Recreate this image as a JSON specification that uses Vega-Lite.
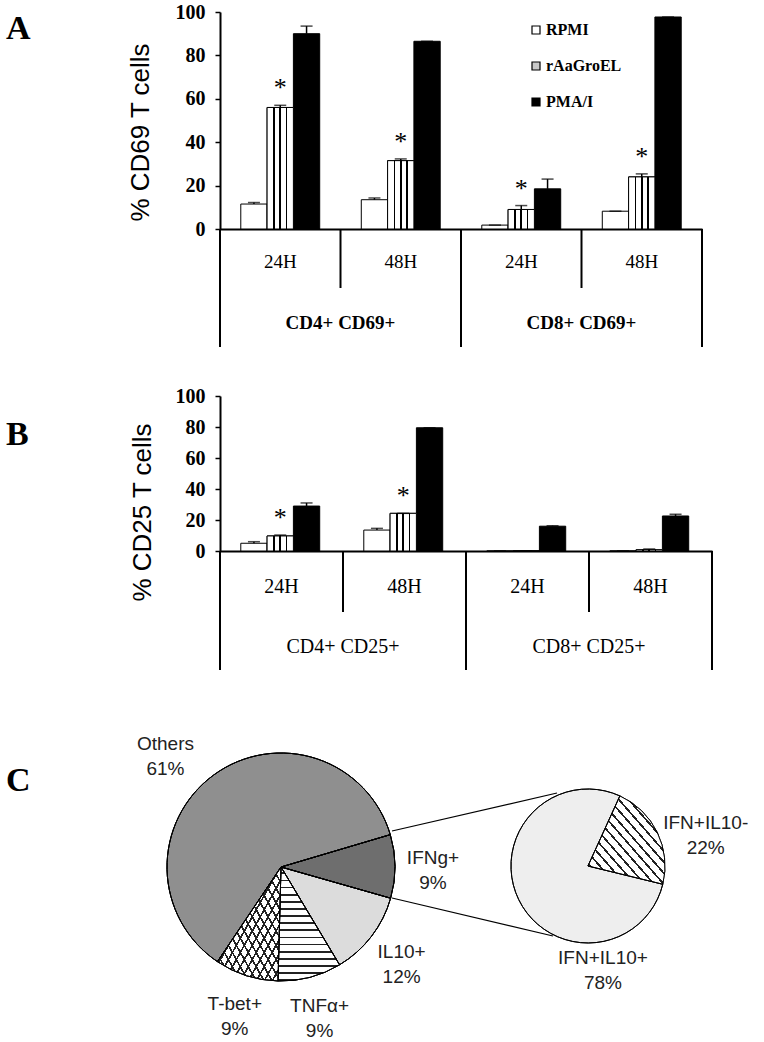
{
  "$schema": "https://vega.github.io/schema/vega-lite/v6.json",
  "padding": {"left": 6, "top": 2, "right": 0, "bottom": 0},
  "bounds": "flush",
  "spacing": 0,
  "config": {"view": {"stroke": null}},
  "resolve": {"scale": {"fill": "independent"}, "legend": {"fill": "independent"}},
  "datasets": {
    "cd69": [
      {"grp": "CD4 24H", "trt": "RPMI", "value": 11.5, "hi": 12.2, "sig": ""},
      {"grp": "CD4 24H", "trt": "rAaGroEL", "value": 56, "hi": 57, "sig": "*"},
      {"grp": "CD4 24H", "trt": "PMA/I", "value": 90, "hi": 93.5, "sig": ""},
      {"grp": "CD4 48H", "trt": "RPMI", "value": 13.5, "hi": 14.3, "sig": ""},
      {"grp": "CD4 48H", "trt": "rAaGroEL", "value": 31.5, "hi": 32.3, "sig": "*"},
      {"grp": "CD4 48H", "trt": "PMA/I", "value": 86.5, "hi": 86.5, "sig": ""},
      {"grp": "CD8 24H", "trt": "RPMI", "value": 1.8, "hi": 1.8, "sig": ""},
      {"grp": "CD8 24H", "trt": "rAaGroEL", "value": 9, "hi": 10.8, "sig": "*"},
      {"grp": "CD8 24H", "trt": "PMA/I", "value": 18.5, "hi": 23, "sig": ""},
      {"grp": "CD8 48H", "trt": "RPMI", "value": 8.2, "hi": 8.2, "sig": ""},
      {"grp": "CD8 48H", "trt": "rAaGroEL", "value": 24, "hi": 25.4, "sig": "*"},
      {"grp": "CD8 48H", "trt": "PMA/I", "value": 97.7, "hi": 97.7, "sig": ""}
    ],
    "cd25": [
      {"grp": "CD4 24H", "trt": "RPMI", "value": 5, "hi": 6, "sig": ""},
      {"grp": "CD4 24H", "trt": "rAaGroEL", "value": 9.7, "hi": 10.3, "sig": "*"},
      {"grp": "CD4 24H", "trt": "PMA/I", "value": 29, "hi": 31, "sig": ""},
      {"grp": "CD4 48H", "trt": "RPMI", "value": 13.5, "hi": 14.6, "sig": ""},
      {"grp": "CD4 48H", "trt": "rAaGroEL", "value": 24.3, "hi": 24.3, "sig": "*"},
      {"grp": "CD4 48H", "trt": "PMA/I", "value": 79.5, "hi": 79.5, "sig": ""},
      {"grp": "CD8 24H", "trt": "RPMI", "value": 0, "hi": 0, "sig": ""},
      {"grp": "CD8 24H", "trt": "rAaGroEL", "value": 0, "hi": 0, "sig": ""},
      {"grp": "CD8 24H", "trt": "PMA/I", "value": 16, "hi": 16.3, "sig": ""},
      {"grp": "CD8 48H", "trt": "RPMI", "value": 0, "hi": 0, "sig": ""},
      {"grp": "CD8 48H", "trt": "rAaGroEL", "value": 0.8, "hi": 1.3, "sig": ""},
      {"grp": "CD8 48H", "trt": "PMA/I", "value": 22.6, "hi": 23.7, "sig": ""}
    ],
    "pie1": [
      {"name": "IFNg+", "pct": 9, "ord": 1, "label": "IFNg+\n9%"},
      {"name": "IL10+", "pct": 12, "ord": 2, "label": "IL10+\n12%"},
      {"name": "TNFα+", "pct": 9, "ord": 3, "label": "TNFα+\n9%"},
      {"name": "T-bet+", "pct": 9, "ord": 4, "label": "T-bet+\n9%"},
      {"name": "Others", "pct": 61, "ord": 5, "label": "Others\n61%"}
    ],
    "pie2": [
      {"name": "IFN+IL10-", "pct": 22, "ord": 1, "label": "IFN+IL10-\n22%"},
      {"name": "IFN+IL10+", "pct": 78, "ord": 2, "label": "IFN+IL10+\n78%"}
    ]
  },
  "vconcat": [
    {
      "width": 482,
      "height": 217,
      "title": {"text": "A", "anchor": "start", "frame": "group", "orient": "top", "offset": 0, "baseline": "alphabetic", "dx": -214, "dy": 71, "font": "Liberation Serif", "fontSize": 34, "fontWeight": "bold", "color": "black"},
      "encoding": {
        "x": {"field": "grp", "type": "nominal", "scale": {"domain": ["CD4 24H", "CD4 48H", "CD8 24H", "CD8 48H"], "paddingInner": 0, "paddingOuter": 0}, "axis": {"labels": false, "ticks": false, "title": null, "domainColor": "black", "domainWidth": 2}},
        "y": {"field": "value", "type": "quantitative", "scale": {"domain": [0, 100], "nice": false}, "axis": {"values": [0, 20, 40, 60, 80, 100], "title": "% CD69 T cells", "titleFont": "Liberation Sans", "titleFontSize": 26, "titleFontWeight": "normal", "titleColor": "black", "titlePadding": 22, "titleY": 120, "labelFont": "Liberation Serif", "labelFontSize": 20, "labelFontWeight": "bold", "labelColor": "black", "labelPadding": 10, "tickSize": 5, "tickWidth": 1.5, "tickColor": "black", "domainColor": "black", "domainWidth": 2, "grid": false}}
      },
      "layer": [
        {
          "data": {"name": "cd69"},
          "mark": {"type": "bar", "stroke": "black", "strokeWidth": 1},
          "encoding": {
            "xOffset": {"field": "trt", "type": "nominal", "scale": {"domain": ["RPMI", "rAaGroEL", "PMA/I"], "paddingInner": 0, "paddingOuter": 0.79}},
            "fill": {"field": "trt", "type": "nominal", "scale": {"domain": ["RPMI", "rAaGroEL", "PMA/I"], "range": ["white", "#c8c8c8", "black"]}, "legend": {"orient": "none", "legendX": 308, "legendY": 10, "title": null, "symbolType": "square", "symbolSize": 64, "symbolStrokeColor": "black", "symbolStrokeWidth": 1.2, "labelFont": "Liberation Serif", "labelFontWeight": "bold", "labelFontSize": 16, "labelColor": "black", "rowPadding": 20, "labelOffset": 2}}
          }
        },
        {
          "data": {"name": "cd69"},
          "transform": [{"filter": "datum.trt === 'rAaGroEL'"}],
          "mark": {"type": "bar", "stroke": "black", "strokeWidth": 1, "fill": {"gradient": "linear", "x1": 0, "y1": 0, "x2": 1, "y2": 0, "stops": [{"offset": 0, "color": "white"}, {"offset": 0.24, "color": "white"}, {"offset": 0.24, "color": "black"}, {"offset": 0.3, "color": "black"}, {"offset": 0.3, "color": "white"}, {"offset": 0.47, "color": "white"}, {"offset": 0.47, "color": "black"}, {"offset": 0.53, "color": "black"}, {"offset": 0.53, "color": "white"}, {"offset": 0.7, "color": "white"}, {"offset": 0.7, "color": "black"}, {"offset": 0.76, "color": "black"}, {"offset": 0.76, "color": "white"}, {"offset": 1, "color": "white"}]}},
          "encoding": {"xOffset": {"field": "trt", "type": "nominal"}}
        },
        {
          "data": {"name": "cd69"},
          "mark": {"type": "rule", "strokeWidth": 1.5, "color": "black"},
          "encoding": {"xOffset": {"field": "trt", "type": "nominal"}, "y2": {"field": "hi"}}
        },
        {
          "data": {"name": "cd69"},
          "mark": {"type": "tick", "orient": "horizontal", "size": 12, "thickness": 1.5, "color": "black"},
          "encoding": {"xOffset": {"field": "trt", "type": "nominal"}, "y": {"field": "hi", "type": "quantitative"}}
        },
        {
          "data": {"name": "cd69"},
          "transform": [{"filter": "datum.sig === '*'"}],
          "mark": {"type": "text", "font": "Liberation Serif", "fontSize": 26, "baseline": "alphabetic", "dy": -9, "color": "black"},
          "encoding": {"xOffset": {"field": "trt", "type": "nominal"}, "y": {"field": "hi", "type": "quantitative"}, "text": {"field": "sig"}}
        }
      ]
    },
    {
      "width": 482,
      "height": 167,
      "encoding": {
        "x": {"field": "grp", "type": "nominal", "scale": {"domain": ["CD4 24H", "CD4 48H", "CD8 24H", "CD8 48H"], "paddingInner": 0, "paddingOuter": 0}, "axis": null}
      },
      "layer": [
        {
          "data": {"values": [{"grp": "CD4 24H"}, {"grp": "CD8 24H"}]},
          "mark": {"type": "rule", "strokeWidth": 2, "color": "black"},
          "encoding": {
            "x": {"field": "grp", "type": "nominal", "bandPosition": 0, "axis": null},
            "y": {"datum": 1, "type": "quantitative", "scale": {"domain": [0, 1], "nice": false, "zero": false}, "axis": null},
            "y2": {"datum": 0.2934}
          }
        },
        {
          "data": {"values": [{"grp": "CD8 48H"}]},
          "mark": {"type": "rule", "strokeWidth": 2, "color": "black"},
          "encoding": {
            "x": {"field": "grp", "type": "nominal", "bandPosition": 1, "axis": null},
            "y": {"datum": 1, "type": "quantitative", "scale": {"domain": [0, 1], "nice": false, "zero": false}, "axis": null},
            "y2": {"datum": 0.2934}
          }
        },
        {
          "data": {"values": [{"grp": "CD4 48H"}, {"grp": "CD8 48H"}]},
          "mark": {"type": "rule", "strokeWidth": 2, "color": "black"},
          "encoding": {
            "x": {"field": "grp", "type": "nominal", "bandPosition": 0, "axis": null},
            "y": {"datum": 1, "type": "quantitative", "scale": {"domain": [0, 1], "nice": false, "zero": false}, "axis": null},
            "y2": {"datum": 0.6467}
          }
        },
        {
          "data": {"values": [{"grp": "CD4 24H", "t": "24H"}, {"grp": "CD4 48H", "t": "48H"}, {"grp": "CD8 24H", "t": "24H"}, {"grp": "CD8 48H", "t": "48H"}]},
          "mark": {"type": "text", "font": "Liberation Serif", "fontSize": 19, "baseline": "middle", "color": "black"},
          "encoding": {
            "y": {"datum": 0.8024, "type": "quantitative", "scale": {"domain": [0, 1], "nice": false, "zero": false}, "axis": null},
            "text": {"field": "t"}
          }
        },
        {
          "data": {"values": [{"grp": "CD4 24H", "t": "CD4+ CD69+"}, {"grp": "CD8 24H", "t": "CD8+ CD69+"}]},
          "mark": {"type": "text", "font": "Liberation Serif", "fontSize": 19, "fontWeight": "bold", "baseline": "middle", "color": "black"},
          "encoding": {
            "x": {"field": "grp", "type": "nominal", "bandPosition": 1, "axis": null},
            "y": {"datum": 0.4371, "type": "quantitative", "scale": {"domain": [0, 1], "nice": false, "zero": false}, "axis": null},
            "text": {"field": "t"}
          }
        }
      ]
    },
    {
      "width": 492,
      "height": 155,
      "title": {"text": "B", "anchor": "start", "frame": "group", "orient": "top", "offset": 0, "baseline": "alphabetic", "dx": -214, "dy": 93, "font": "Liberation Serif", "fontSize": 34, "fontWeight": "bold", "color": "black"},
      "encoding": {
        "x": {"field": "grp", "type": "nominal", "scale": {"domain": ["CD4 24H", "CD4 48H", "CD8 24H", "CD8 48H"], "paddingInner": 0, "paddingOuter": 0}, "axis": {"labels": false, "ticks": false, "title": null, "domainColor": "black", "domainWidth": 2}},
        "y": {"field": "value", "type": "quantitative", "scale": {"domain": [0, 100], "nice": false}, "axis": {"values": [0, 20, 40, 60, 80, 100], "title": "% CD25 T cells", "titleFont": "Liberation Sans", "titleFontSize": 26, "titleFontWeight": "normal", "titleColor": "black", "titlePadding": 20, "titleY": 116, "labelFont": "Liberation Serif", "labelFontSize": 20, "labelFontWeight": "bold", "labelColor": "black", "labelPadding": 10, "tickSize": 5, "tickWidth": 1.5, "tickColor": "black", "domainColor": "black", "domainWidth": 2, "grid": false}}
      },
      "layer": [
        {
          "data": {"name": "cd25"},
          "mark": {"type": "bar", "stroke": "black", "strokeWidth": 1},
          "encoding": {
            "xOffset": {"field": "trt", "type": "nominal", "scale": {"domain": ["RPMI", "rAaGroEL", "PMA/I"], "paddingInner": 0, "paddingOuter": 0.78}},
            "fill": {"field": "trt", "type": "nominal", "scale": {"domain": ["RPMI", "rAaGroEL", "PMA/I"], "range": ["white", "#c8c8c8", "black"]}, "legend": null}
          }
        },
        {
          "data": {"name": "cd25"},
          "transform": [{"filter": "datum.trt === 'rAaGroEL'"}],
          "mark": {"type": "bar", "stroke": "black", "strokeWidth": 1, "fill": {"gradient": "linear", "x1": 0, "y1": 0, "x2": 1, "y2": 0, "stops": [{"offset": 0, "color": "white"}, {"offset": 0.24, "color": "white"}, {"offset": 0.24, "color": "black"}, {"offset": 0.3, "color": "black"}, {"offset": 0.3, "color": "white"}, {"offset": 0.47, "color": "white"}, {"offset": 0.47, "color": "black"}, {"offset": 0.53, "color": "black"}, {"offset": 0.53, "color": "white"}, {"offset": 0.7, "color": "white"}, {"offset": 0.7, "color": "black"}, {"offset": 0.76, "color": "black"}, {"offset": 0.76, "color": "white"}, {"offset": 1, "color": "white"}]}},
          "encoding": {"xOffset": {"field": "trt", "type": "nominal"}}
        },
        {
          "data": {"name": "cd25"},
          "mark": {"type": "rule", "strokeWidth": 1.5, "color": "black"},
          "encoding": {"xOffset": {"field": "trt", "type": "nominal"}, "y2": {"field": "hi"}}
        },
        {
          "data": {"name": "cd25"},
          "mark": {"type": "tick", "orient": "horizontal", "size": 12, "thickness": 1.5, "color": "black"},
          "encoding": {"xOffset": {"field": "trt", "type": "nominal"}, "y": {"field": "hi", "type": "quantitative"}}
        },
        {
          "data": {"name": "cd25"},
          "transform": [{"filter": "datum.sig === '*'"}],
          "mark": {"type": "text", "font": "Liberation Serif", "fontSize": 26, "baseline": "alphabetic", "dy": -9, "color": "black"},
          "encoding": {"xOffset": {"field": "trt", "type": "nominal"}, "y": {"field": "hi", "type": "quantitative"}, "text": {"field": "sig"}}
        }
      ]
    },
    {
      "width": 492,
      "height": 168,
      "encoding": {
        "x": {"field": "grp", "type": "nominal", "scale": {"domain": ["CD4 24H", "CD4 48H", "CD8 24H", "CD8 48H"], "paddingInner": 0, "paddingOuter": 0}, "axis": null}
      },
      "layer": [
        {
          "data": {"values": [{"grp": "CD4 24H"}, {"grp": "CD8 24H"}]},
          "mark": {"type": "rule", "strokeWidth": 2, "color": "black"},
          "encoding": {
            "x": {"field": "grp", "type": "nominal", "bandPosition": 0, "axis": null},
            "y": {"datum": 1, "type": "quantitative", "scale": {"domain": [0, 1], "nice": false, "zero": false}, "axis": null},
            "y2": {"datum": 0.2917}
          }
        },
        {
          "data": {"values": [{"grp": "CD8 48H"}]},
          "mark": {"type": "rule", "strokeWidth": 2, "color": "black"},
          "encoding": {
            "x": {"field": "grp", "type": "nominal", "bandPosition": 1, "axis": null},
            "y": {"datum": 1, "type": "quantitative", "scale": {"domain": [0, 1], "nice": false, "zero": false}, "axis": null},
            "y2": {"datum": 0.2917}
          }
        },
        {
          "data": {"values": [{"grp": "CD4 48H"}, {"grp": "CD8 48H"}]},
          "mark": {"type": "rule", "strokeWidth": 2, "color": "black"},
          "encoding": {
            "x": {"field": "grp", "type": "nominal", "bandPosition": 0, "axis": null},
            "y": {"datum": 1, "type": "quantitative", "scale": {"domain": [0, 1], "nice": false, "zero": false}, "axis": null},
            "y2": {"datum": 0.6369}
          }
        },
        {
          "data": {"values": [{"grp": "CD4 24H", "t": "24H"}, {"grp": "CD4 48H", "t": "48H"}, {"grp": "CD8 24H", "t": "24H"}, {"grp": "CD8 48H", "t": "48H"}]},
          "mark": {"type": "text", "font": "Liberation Serif", "fontSize": 20, "baseline": "middle", "color": "black"},
          "encoding": {
            "y": {"datum": 0.7857, "type": "quantitative", "scale": {"domain": [0, 1], "nice": false, "zero": false}, "axis": null},
            "text": {"field": "t"}
          }
        },
        {
          "data": {"values": [{"grp": "CD4 24H", "t": "CD4+ CD25+"}, {"grp": "CD8 24H", "t": "CD8+ CD25+"}]},
          "mark": {"type": "text", "font": "Liberation Serif", "fontSize": 20, "baseline": "middle", "color": "black"},
          "encoding": {
            "x": {"field": "grp", "type": "nominal", "bandPosition": 1, "axis": null},
            "y": {"datum": 0.4286, "type": "quantitative", "scale": {"domain": [0, 1], "nice": false, "zero": false}, "axis": null},
            "text": {"field": "t"}
          }
        }
      ]
    },
    {
      "width": 540,
      "height": 324,
      "title": {"text": "C", "anchor": "start", "frame": "group", "orient": "top", "offset": 0, "baseline": "alphabetic", "dx": -214, "dy": 106, "font": "Liberation Serif", "fontSize": 34, "fontWeight": "bold", "color": "black"},
      "resolve": {"scale": {"theta": "independent", "fill": "independent"}},
      "layer": [
        {
          "data": {"values": [{}]},
          "mark": {"type": "rule", "color": "black", "strokeWidth": 1.2},
          "encoding": {
            "x": {"datum": 51.31, "type": "quantitative", "scale": {"domain": [0, 100], "range": [-220, 544], "nice": false, "zero": false}, "axis": null},
            "y": {"datum": 65.43, "type": "quantitative", "scale": {"domain": [0, 100], "range": [324, 0], "nice": false, "zero": false}, "axis": null},
            "x2": {"datum": 72.91},
            "y2": {"datum": 77.16}
          }
        },
        {
          "data": {"values": [{}]},
          "mark": {"type": "rule", "color": "black", "strokeWidth": 1.2},
          "encoding": {
            "x": {"datum": 51.31, "type": "quantitative", "scale": {"domain": [0, 100], "range": [-220, 544], "nice": false, "zero": false}, "axis": null},
            "y": {"datum": 44.75, "type": "quantitative", "scale": {"domain": [0, 100], "range": [324, 0], "nice": false, "zero": false}, "axis": null},
            "x2": {"datum": 72.38},
            "y2": {"datum": 33.02}
          }
        },
        {
          "data": {"name": "pie1"},
          "encoding": {
            "theta": {"field": "pct", "type": "quantitative", "stack": true, "scale": {"range": [1.2828, 7.566]}},
            "order": {"field": "ord", "type": "quantitative"},
            "detail": {"field": "name", "type": "nominal"},
            "x": {"datum": 36.78, "type": "quantitative", "scale": {"domain": [0, 100], "range": [-220, 544], "nice": false, "zero": false}, "axis": null},
            "y": {"datum": 54.32, "type": "quantitative", "scale": {"domain": [0, 100], "range": [324, 0], "nice": false, "zero": false}, "axis": null}
          },
          "layer": [
            {
              "mark": {"type": "arc", "radius": 114, "stroke": "black", "strokeWidth": 1},
              "encoding": {
                "fill": {"field": "name", "type": "nominal", "scale": {"domain": ["IFNg+", "IL10+", "TNFα+", "T-bet+", "Others"], "range": ["#6e6e6e", "#dcdcdc", "#c4c4c4", "#cacaca", "#8f8f8f"]}, "legend": null}
              }
            },
            {
              "mark": {"type": "arc", "radius": 114, "stroke": "black", "strokeWidth": 1},
              "encoding": {
                "fill": {"condition": [
                  {"test": "datum.name === 'T-bet+'", "value": {"gradient": "linear", "x1": 0, "y1": 0, "x2": 1, "y2": 1, "stops": [
                    {"offset": 0, "color": "white"}, {"offset": 0.0475, "color": "white"}, {"offset": 0.0475, "color": "#222"}, {"offset": 0.0625, "color": "#222"},
                    {"offset": 0.0625, "color": "white"}, {"offset": 0.11, "color": "white"}, {"offset": 0.11, "color": "#222"}, {"offset": 0.125, "color": "#222"},
                    {"offset": 0.125, "color": "white"}, {"offset": 0.1725, "color": "white"}, {"offset": 0.1725, "color": "#222"}, {"offset": 0.1875, "color": "#222"},
                    {"offset": 0.1875, "color": "white"}, {"offset": 0.235, "color": "white"}, {"offset": 0.235, "color": "#222"}, {"offset": 0.25, "color": "#222"},
                    {"offset": 0.25, "color": "white"}, {"offset": 0.2975, "color": "white"}, {"offset": 0.2975, "color": "#222"}, {"offset": 0.3125, "color": "#222"},
                    {"offset": 0.3125, "color": "white"}, {"offset": 0.36, "color": "white"}, {"offset": 0.36, "color": "#222"}, {"offset": 0.375, "color": "#222"},
                    {"offset": 0.375, "color": "white"}, {"offset": 0.4225, "color": "white"}, {"offset": 0.4225, "color": "#222"}, {"offset": 0.4375, "color": "#222"},
                    {"offset": 0.4375, "color": "white"}, {"offset": 0.485, "color": "white"}, {"offset": 0.485, "color": "#222"}, {"offset": 0.5, "color": "#222"},
                    {"offset": 0.5, "color": "white"}, {"offset": 0.5475, "color": "white"}, {"offset": 0.5475, "color": "#222"}, {"offset": 0.5625, "color": "#222"},
                    {"offset": 0.5625, "color": "white"}, {"offset": 0.61, "color": "white"}, {"offset": 0.61, "color": "#222"}, {"offset": 0.625, "color": "#222"},
                    {"offset": 0.625, "color": "white"}, {"offset": 0.6725, "color": "white"}, {"offset": 0.6725, "color": "#222"}, {"offset": 0.6875, "color": "#222"},
                    {"offset": 0.6875, "color": "white"}, {"offset": 0.735, "color": "white"}, {"offset": 0.735, "color": "#222"}, {"offset": 0.75, "color": "#222"},
                    {"offset": 0.75, "color": "white"}, {"offset": 0.7975, "color": "white"}, {"offset": 0.7975, "color": "#222"}, {"offset": 0.8125, "color": "#222"},
                    {"offset": 0.8125, "color": "white"}, {"offset": 0.86, "color": "white"}, {"offset": 0.86, "color": "#222"}, {"offset": 0.875, "color": "#222"},
                    {"offset": 0.875, "color": "white"}, {"offset": 0.9225, "color": "white"}, {"offset": 0.9225, "color": "#222"}, {"offset": 0.9375, "color": "#222"},
                    {"offset": 0.9375, "color": "white"}, {"offset": 0.985, "color": "white"}, {"offset": 0.985, "color": "#222"}, {"offset": 1, "color": "#222"}
                  ]}},
                  {"test": "datum.name === 'TNFα+'", "value": {"gradient": "linear", "x1": 0, "y1": 0, "x2": 0, "y2": 1, "stops": [
                    {"offset": 0, "color": "white"}, {"offset": 0.0475, "color": "white"}, {"offset": 0.0475, "color": "#222"}, {"offset": 0.0625, "color": "#222"},
                    {"offset": 0.0625, "color": "white"}, {"offset": 0.11, "color": "white"}, {"offset": 0.11, "color": "#222"}, {"offset": 0.125, "color": "#222"},
                    {"offset": 0.125, "color": "white"}, {"offset": 0.1725, "color": "white"}, {"offset": 0.1725, "color": "#222"}, {"offset": 0.1875, "color": "#222"},
                    {"offset": 0.1875, "color": "white"}, {"offset": 0.235, "color": "white"}, {"offset": 0.235, "color": "#222"}, {"offset": 0.25, "color": "#222"},
                    {"offset": 0.25, "color": "white"}, {"offset": 0.2975, "color": "white"}, {"offset": 0.2975, "color": "#222"}, {"offset": 0.3125, "color": "#222"},
                    {"offset": 0.3125, "color": "white"}, {"offset": 0.36, "color": "white"}, {"offset": 0.36, "color": "#222"}, {"offset": 0.375, "color": "#222"},
                    {"offset": 0.375, "color": "white"}, {"offset": 0.4225, "color": "white"}, {"offset": 0.4225, "color": "#222"}, {"offset": 0.4375, "color": "#222"},
                    {"offset": 0.4375, "color": "white"}, {"offset": 0.485, "color": "white"}, {"offset": 0.485, "color": "#222"}, {"offset": 0.5, "color": "#222"},
                    {"offset": 0.5, "color": "white"}, {"offset": 0.5475, "color": "white"}, {"offset": 0.5475, "color": "#222"}, {"offset": 0.5625, "color": "#222"},
                    {"offset": 0.5625, "color": "white"}, {"offset": 0.61, "color": "white"}, {"offset": 0.61, "color": "#222"}, {"offset": 0.625, "color": "#222"},
                    {"offset": 0.625, "color": "white"}, {"offset": 0.6725, "color": "white"}, {"offset": 0.6725, "color": "#222"}, {"offset": 0.6875, "color": "#222"},
                    {"offset": 0.6875, "color": "white"}, {"offset": 0.735, "color": "white"}, {"offset": 0.735, "color": "#222"}, {"offset": 0.75, "color": "#222"},
                    {"offset": 0.75, "color": "white"}, {"offset": 0.7975, "color": "white"}, {"offset": 0.7975, "color": "#222"}, {"offset": 0.8125, "color": "#222"},
                    {"offset": 0.8125, "color": "white"}, {"offset": 0.86, "color": "white"}, {"offset": 0.86, "color": "#222"}, {"offset": 0.875, "color": "#222"},
                    {"offset": 0.875, "color": "white"}, {"offset": 0.9225, "color": "white"}, {"offset": 0.9225, "color": "#222"}, {"offset": 0.9375, "color": "#222"},
                    {"offset": 0.9375, "color": "white"}, {"offset": 0.985, "color": "white"}, {"offset": 0.985, "color": "#222"}, {"offset": 1, "color": "#222"}
                  ]}}
                ], "value": "transparent"}
              }
            },
            {
              "mark": {"type": "arc", "radius": 114, "stroke": "black", "strokeWidth": 1},
              "encoding": {
                "fill": {"condition": {"test": "datum.name === 'T-bet+'", "value": {"gradient": "linear", "x1": 0, "y1": 1, "x2": 1, "y2": 0, "stops": [
                    {"offset": 0, "color": "rgba(255,255,255,0)"}, {"offset": 0.0475, "color": "rgba(255,255,255,0)"}, {"offset": 0.0475, "color": "#222"}, {"offset": 0.0625, "color": "#222"},
                    {"offset": 0.0625, "color": "rgba(255,255,255,0)"}, {"offset": 0.11, "color": "rgba(255,255,255,0)"}, {"offset": 0.11, "color": "#222"}, {"offset": 0.125, "color": "#222"},
                    {"offset": 0.125, "color": "rgba(255,255,255,0)"}, {"offset": 0.1725, "color": "rgba(255,255,255,0)"}, {"offset": 0.1725, "color": "#222"}, {"offset": 0.1875, "color": "#222"},
                    {"offset": 0.1875, "color": "rgba(255,255,255,0)"}, {"offset": 0.235, "color": "rgba(255,255,255,0)"}, {"offset": 0.235, "color": "#222"}, {"offset": 0.25, "color": "#222"},
                    {"offset": 0.25, "color": "rgba(255,255,255,0)"}, {"offset": 0.2975, "color": "rgba(255,255,255,0)"}, {"offset": 0.2975, "color": "#222"}, {"offset": 0.3125, "color": "#222"},
                    {"offset": 0.3125, "color": "rgba(255,255,255,0)"}, {"offset": 0.36, "color": "rgba(255,255,255,0)"}, {"offset": 0.36, "color": "#222"}, {"offset": 0.375, "color": "#222"},
                    {"offset": 0.375, "color": "rgba(255,255,255,0)"}, {"offset": 0.4225, "color": "rgba(255,255,255,0)"}, {"offset": 0.4225, "color": "#222"}, {"offset": 0.4375, "color": "#222"},
                    {"offset": 0.4375, "color": "rgba(255,255,255,0)"}, {"offset": 0.485, "color": "rgba(255,255,255,0)"}, {"offset": 0.485, "color": "#222"}, {"offset": 0.5, "color": "#222"},
                    {"offset": 0.5, "color": "rgba(255,255,255,0)"}, {"offset": 0.5475, "color": "rgba(255,255,255,0)"}, {"offset": 0.5475, "color": "#222"}, {"offset": 0.5625, "color": "#222"},
                    {"offset": 0.5625, "color": "rgba(255,255,255,0)"}, {"offset": 0.61, "color": "rgba(255,255,255,0)"}, {"offset": 0.61, "color": "#222"}, {"offset": 0.625, "color": "#222"},
                    {"offset": 0.625, "color": "rgba(255,255,255,0)"}, {"offset": 0.6725, "color": "rgba(255,255,255,0)"}, {"offset": 0.6725, "color": "#222"}, {"offset": 0.6875, "color": "#222"},
                    {"offset": 0.6875, "color": "rgba(255,255,255,0)"}, {"offset": 0.735, "color": "rgba(255,255,255,0)"}, {"offset": 0.735, "color": "#222"}, {"offset": 0.75, "color": "#222"},
                    {"offset": 0.75, "color": "rgba(255,255,255,0)"}, {"offset": 0.7975, "color": "rgba(255,255,255,0)"}, {"offset": 0.7975, "color": "#222"}, {"offset": 0.8125, "color": "#222"},
                    {"offset": 0.8125, "color": "rgba(255,255,255,0)"}, {"offset": 0.86, "color": "rgba(255,255,255,0)"}, {"offset": 0.86, "color": "#222"}, {"offset": 0.875, "color": "#222"},
                    {"offset": 0.875, "color": "rgba(255,255,255,0)"}, {"offset": 0.9225, "color": "rgba(255,255,255,0)"}, {"offset": 0.9225, "color": "#222"}, {"offset": 0.9375, "color": "#222"},
                    {"offset": 0.9375, "color": "rgba(255,255,255,0)"}, {"offset": 0.985, "color": "rgba(255,255,255,0)"}, {"offset": 0.985, "color": "#222"}, {"offset": 1, "color": "#222"}
                  ]}}, "value": "transparent"}
              }
            },
            {
              "mark": {"type": "text", "radius": 152, "dy": -8, "font": "Liberation Sans", "fontSize": 19, "lineBreak": "\n", "lineHeight": 25, "baseline": "middle", "align": "center", "color": "#222222"},
              "encoding": {"text": {"condition": {"test": "datum.name !== 'Others'", "field": "label"}, "value": ""}}
            },
            {
              "mark": {"type": "text", "radius": 158, "dx": -22, "dy": 4, "font": "Liberation Sans", "fontSize": 19, "lineBreak": "\n", "lineHeight": 25, "baseline": "middle", "align": "center", "color": "#222222"},
              "encoding": {"text": {"condition": {"test": "datum.name === 'Others'", "field": "label"}, "value": ""}}
            }
          ]
        },
        {
          "data": {"name": "pie2"},
          "encoding": {
            "theta": {"field": "pct", "type": "quantitative", "stack": true, "scale": {"range": [0.4276, 6.7108]}},
            "order": {"field": "ord", "type": "quantitative"},
            "detail": {"field": "name", "type": "nominal"},
            "x": {"datum": 76.96, "type": "quantitative", "scale": {"domain": [0, 100], "range": [-220, 544], "nice": false, "zero": false}, "axis": null},
            "y": {"datum": 54.63, "type": "quantitative", "scale": {"domain": [0, 100], "range": [324, 0], "nice": false, "zero": false}, "axis": null}
          },
          "layer": [
            {
              "mark": {"type": "arc", "radius": 77, "stroke": "black", "strokeWidth": 1},
              "encoding": {
                "fill": {"field": "name", "type": "nominal", "scale": {"domain": ["IFN+IL10-", "IFN+IL10+"], "range": ["#b4b4b4", "#eeeeee"]}, "legend": null}
              }
            },
            {
              "mark": {"type": "arc", "radius": 77, "stroke": "black", "strokeWidth": 1},
              "encoding": {
                "fill": {"condition": {"test": "datum.name === 'IFN+IL10-'", "value": {"gradient": "linear", "x1": 0, "y1": 1, "x2": 1, "y2": 0, "stops": [
                  {"offset": 0, "color": "white"}, {"offset": 0.0475, "color": "white"}, {"offset": 0.0475, "color": "#222"}, {"offset": 0.0625, "color": "#222"},
                  {"offset": 0.0625, "color": "white"}, {"offset": 0.11, "color": "white"}, {"offset": 0.11, "color": "#222"}, {"offset": 0.125, "color": "#222"},
                  {"offset": 0.125, "color": "white"}, {"offset": 0.1725, "color": "white"}, {"offset": 0.1725, "color": "#222"}, {"offset": 0.1875, "color": "#222"},
                  {"offset": 0.1875, "color": "white"}, {"offset": 0.235, "color": "white"}, {"offset": 0.235, "color": "#222"}, {"offset": 0.25, "color": "#222"},
                  {"offset": 0.25, "color": "white"}, {"offset": 0.2975, "color": "white"}, {"offset": 0.2975, "color": "#222"}, {"offset": 0.3125, "color": "#222"},
                  {"offset": 0.3125, "color": "white"}, {"offset": 0.36, "color": "white"}, {"offset": 0.36, "color": "#222"}, {"offset": 0.375, "color": "#222"},
                  {"offset": 0.375, "color": "white"}, {"offset": 0.4225, "color": "white"}, {"offset": 0.4225, "color": "#222"}, {"offset": 0.4375, "color": "#222"},
                  {"offset": 0.4375, "color": "white"}, {"offset": 0.485, "color": "white"}, {"offset": 0.485, "color": "#222"}, {"offset": 0.5, "color": "#222"},
                  {"offset": 0.5, "color": "white"}, {"offset": 0.5475, "color": "white"}, {"offset": 0.5475, "color": "#222"}, {"offset": 0.5625, "color": "#222"},
                  {"offset": 0.5625, "color": "white"}, {"offset": 0.61, "color": "white"}, {"offset": 0.61, "color": "#222"}, {"offset": 0.625, "color": "#222"},
                  {"offset": 0.625, "color": "white"}, {"offset": 0.6725, "color": "white"}, {"offset": 0.6725, "color": "#222"}, {"offset": 0.6875, "color": "#222"},
                  {"offset": 0.6875, "color": "white"}, {"offset": 0.735, "color": "white"}, {"offset": 0.735, "color": "#222"}, {"offset": 0.75, "color": "#222"},
                  {"offset": 0.75, "color": "white"}, {"offset": 0.7975, "color": "white"}, {"offset": 0.7975, "color": "#222"}, {"offset": 0.8125, "color": "#222"},
                  {"offset": 0.8125, "color": "white"}, {"offset": 0.86, "color": "white"}, {"offset": 0.86, "color": "#222"}, {"offset": 0.875, "color": "#222"},
                  {"offset": 0.875, "color": "white"}, {"offset": 0.9225, "color": "white"}, {"offset": 0.9225, "color": "#222"}, {"offset": 0.9375, "color": "#222"},
                  {"offset": 0.9375, "color": "white"}, {"offset": 0.985, "color": "white"}, {"offset": 0.985, "color": "#222"}, {"offset": 1, "color": "#222"}
                ]}}, "value": "transparent"}
              }
            },
            {
              "mark": {"type": "text", "radius": 122, "dx": 8, "dy": 10, "font": "Liberation Sans", "fontSize": 19, "lineBreak": "\n", "lineHeight": 25, "baseline": "middle", "align": "center", "color": "#222222"},
              "encoding": {"text": {"condition": {"test": "datum.name === 'IFN+IL10-'", "field": "label"}, "value": ""}}
            },
            {
              "mark": {"type": "text", "radius": 0, "dx": 15, "dy": 92, "font": "Liberation Sans", "fontSize": 19, "lineBreak": "\n", "lineHeight": 25, "baseline": "middle", "align": "center", "color": "#222222"},
              "encoding": {"text": {"condition": {"test": "datum.name === 'IFN+IL10+'", "field": "label"}, "value": ""}}
            }
          ]
        }
      ]
    }
  ]
}
